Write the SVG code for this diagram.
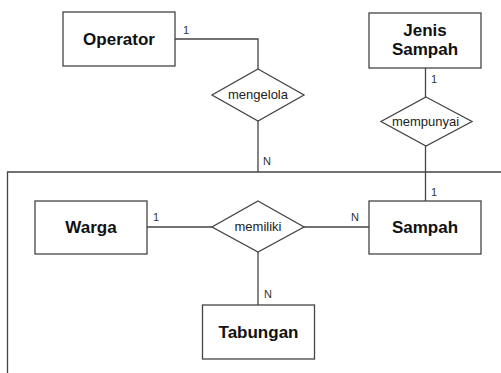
<svg xmlns="http://www.w3.org/2000/svg" width="501" height="373" viewBox="0 0 501 373">
<style>
.ent{fill:#fff;stroke:#444;stroke-width:1.3}
.rel{fill:#fff;stroke:#444;stroke-width:1.3}
.et{font-family:"Liberation Sans",Arial,sans-serif;font-weight:bold;font-size:17px;fill:#111;text-anchor:middle}
.rt{font-family:"Liberation Sans",Arial,sans-serif;font-size:13px;fill:#222;text-anchor:middle}
.ct{font-family:"Liberation Sans",Arial,sans-serif;font-size:11px;fill:#333}
.ln{fill:none;stroke:#444;stroke-width:1.3}
</style>
<rect width="501" height="373" fill="#fff"/>
<g id="connectors">
<path class="ln" d="M7.5 373 V172 H501"/>
<path class="ln" d="M175 39 H258 V69"/>
<path class="ln" d="M258 121 V172"/>
<path class="ln" d="M425.5 68 V97"/>
<path class="ln" d="M425.5 146 V201"/>
<path class="ln" d="M147 227 H212"/>
<path class="ln" d="M304 227 H369"/>
<path class="ln" d="M258 252 V305"/>
<text class="ct" x="183" y="34">1</text>
<text class="ct" x="263" y="165">N</text>
<text class="ct" x="431" y="83">1</text>
<text class="ct" x="431" y="196">1</text>
<text class="ct" x="153" y="221">1</text>
<text class="ct" x="351" y="221">N</text>
<text class="ct" x="264" y="298">N</text>
</g>
<g id="operator">
<rect class="ent" x="63" y="12" width="112" height="54"/>
<text class="et" x="119" y="45">Operator</text>
</g>
<g id="jenis-sampah">
<rect class="ent" x="369" y="13" width="112" height="55"/>
<text class="et" x="425" y="36">Jenis</text>
<text class="et" x="425" y="55">Sampah</text>
</g>
<g id="mengelola">
<polygon class="rel" points="258,69 304,95 258,121 212,95"/>
<text class="rt" x="258" y="99">mengelola</text>
</g>
<g id="mempunyai">
<polygon class="rel" points="426,97 472,121.5 426,146 381,121.5"/>
<text class="rt" x="425.5" y="125.5">mempunyai</text>
</g>
<g id="warga">
<rect class="ent" x="35" y="201" width="112" height="53"/>
<text class="et" x="91" y="233">Warga</text>
</g>
<g id="memiliki">
<polygon class="rel" points="258,201 304,227 258,252 212,227"/>
<text class="rt" x="258" y="231">memiliki</text>
</g>
<g id="sampah">
<rect class="ent" x="369" y="201" width="112" height="53"/>
<text class="et" x="425" y="233">Sampah</text>
</g>
<g id="tabungan">
<rect class="ent" x="202.5" y="305" width="112" height="54"/>
<text class="et" x="258.5" y="338">Tabungan</text>
</g>
</svg>
